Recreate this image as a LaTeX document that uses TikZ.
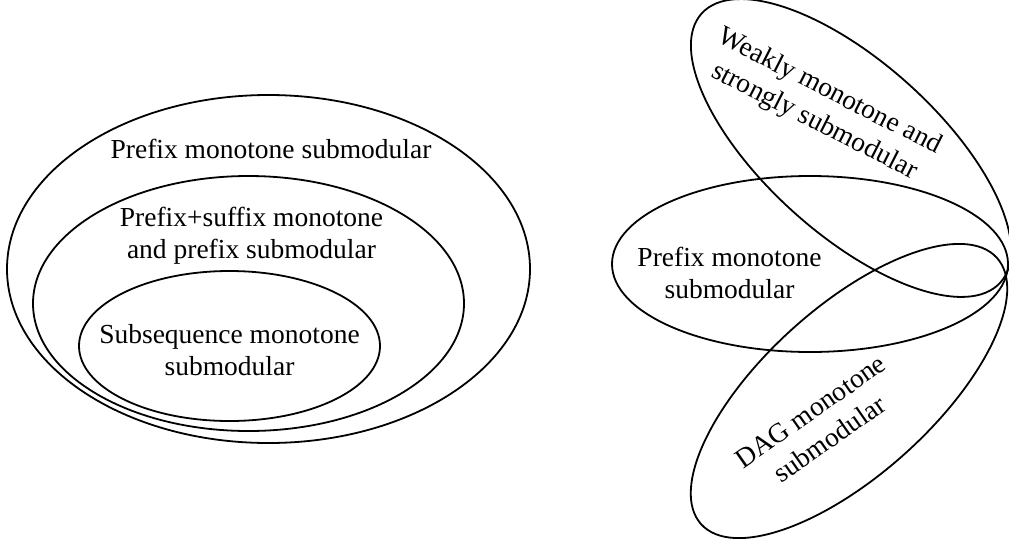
\documentclass[tikz,border=0pt]{standalone}
\usepackage{fontspec}
\setmainfont{Liberation Serif}
\begin{document}
\begin{tikzpicture}[x=1pt,y=-1pt,
  ell/.style={draw=black, line width=1.8pt},
  lbl/.style={font=\fontsize{27.5}{32}\selectfont, align=center, inner sep=0pt},
  rlbl/.style={font=\fontsize{27.5}{33.5}\selectfont, align=center, inner sep=0pt}]
\useasboundingbox (0,0) rectangle (1009,544);
\clip (0,0) rectangle (1009,544);
% left nested sets
\draw[ell] (268.5,269) ellipse [x radius=261.5pt, y radius=174pt];
\draw[ell] (248.5,303.5) ellipse [x radius=215.5pt, y radius=127.5pt];
\draw[ell] (229.5,346) ellipse [x radius=150.5pt, y radius=75pt];
\node[lbl, anchor=base] (pms) at (271,158) {Prefix monotone submodular};
\node[lbl] (psm) at (251.5,236) {Prefix+suffix monotone\\and prefix submodular};
\node[lbl] (ssm) at (229.5,349.7) {Subsequence monotone\\submodular};
% right overlapping sets
\draw[ell] (810,264) ellipse [x radius=198pt, y radius=88pt];
\draw[ell, rotate around={-42:(851,148)}] (851,148) ellipse [x radius=201pt, y radius=86pt];
\draw[ell, rotate around={42:(849,391)}] (849,391) ellipse [x radius=199pt, y radius=84pt];
\node[lbl] (pm2) at (729.5,273) {Prefix monotone\\submodular};
\node[rlbl, rotate=-27] (wm) at (822,107) {Weakly monotone and\\strongly submodular};
\node[rlbl, rotate=35] (dag) at (820,425) {DAG monotone\\submodular};
\end{tikzpicture}
\end{document}
